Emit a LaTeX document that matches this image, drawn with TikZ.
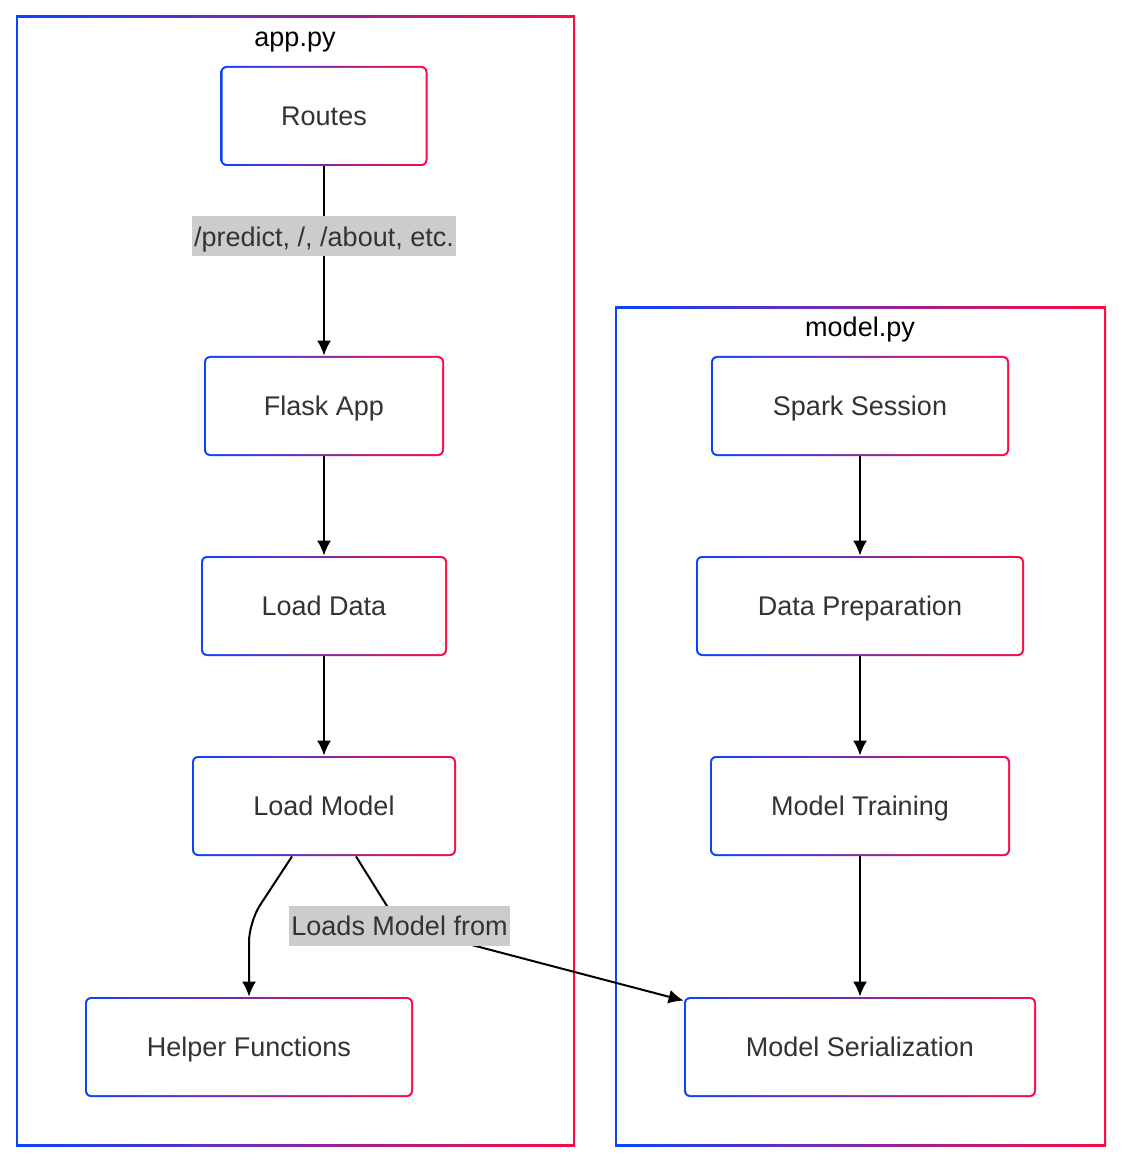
\documentclass[tikz,border=0pt]{standalone}
\usepackage{fontspec}
\setmainfont{Liberation Sans}
\usetikzlibrary{arrows.meta}
\definecolor{edgeblue}{HTML}{0A44FF}
\definecolor{edgered}{HTML}{FF0A44}
\definecolor{labelgray}{HTML}{CCCCCC}
\definecolor{textgray}{HTML}{333333}

\begin{document}
\begin{tikzpicture}
[x=0.5pt,y=-0.5pt,
 gradientborder/.style={path picture={
   \shade[left color=edgeblue,right color=edgered]
     (path picture bounding box.south west) rectangle (path picture bounding box.north east);
   \fill[white,rounded corners=#1]
     ([shift={(1pt,1pt)}]path picture bounding box.south west) rectangle
     ([shift={(-1pt,-1pt)}]path picture bounding box.north east);}},%
 nodedecorate/.style={shape=rectangle,rounded corners=3pt,gradientborder=2pt,
   minimum height=50pt,inner sep=0pt,text height=9.7pt,text depth=0pt,
   text=textgray,font=\fontsize{13.5}{16}\selectfont},%
 clusterdecorate/.style={shape=rectangle,gradientborder=0pt,inner sep=0pt},%
 titledecorate/.style={text=black,text height=9.7pt,text depth=0pt,
   font=\fontsize{13.5}{16}\selectfont},%
 linedecorate/.style={-{Latex[length=7.5pt,width=7pt]},line width=1pt},%
 labeldecorate/.style={fill=labelgray,text=textgray,inner xsep=1pt,inner ysep=0pt,
   minimum height=20pt,text height=9.7pt,text depth=0pt,
   font=\fontsize{13.5}{16}\selectfont}]
\useasboundingbox (0,0) rectangle (1124,1165);
%% clusters
\node (app) at (295.5,581) [clusterdecorate,minimum width=279.5pt,minimum height=565pt] {};
\node (model) at (860.5,726.5) [clusterdecorate,minimum width=245.5pt,minimum height=419.5pt] {};
\node (apptitle) at (295,37) [titledecorate] {app.py};
\node (modeltitle) at (860,327) [titledecorate] {model.py};
%% nodes or boxes
\foreach \nodename/\x/\y/\boxwidth/\nodetext in {
  routes/324/116/103.5/Routes, flask/324/406/120/Flask App,
  loaddata/324/606/123/Load Data, loadmodel/324/806/132/Load Model,
  helper/249/1047/164/Helper Functions, spark/860/406/149/Spark Session,
  dataprep/860/606/164/Data Preparation, training/860/806/150/Model Training,
  serial/860/1047/176/Model Serialization} {
  \node (\nodename) at (\x,\y) [nodedecorate,minimum width=\boxwidth pt] {\nodetext};
}
%% edges or lines
\path
\foreach \startnode/\endnode in {flask/loaddata, loaddata/loadmodel,
  spark/dataprep, dataprep/training, training/serial} {
  (\startnode) edge[linedecorate] (\endnode)
};
\draw[linedecorate] (routes) -- node[labeldecorate,pos=0.37] {/predict, /, /about, etc.} (flask);
\coordinate (helperbend) at (249,922);
\draw[linedecorate,rounded corners=10pt] ([xshift=-16pt]loadmodel.south) -- (helperbend) -- (helper);
\coordinate (loadsbend) at (399.5,926);
\draw[linedecorate] ([xshift=16pt]loadmodel.south) -- (loadsbend) -- ([yshift=-2pt]serial.north west);
\node (loadslabel) at (loadsbend) [labeldecorate] {Loads Model from};
\end{tikzpicture}
\end{document}
